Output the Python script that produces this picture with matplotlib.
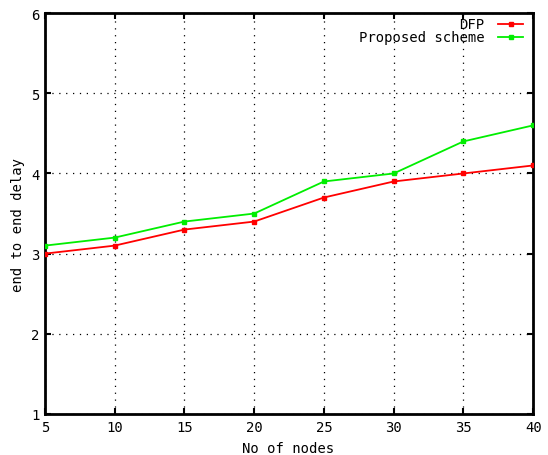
import matplotlib
matplotlib.use("Agg")
import matplotlib.pyplot as plt
from matplotlib.lines import Line2D

nodes = [5, 10, 15, 20, 25, 30, 35, 40]
dfp = [3.0, 3.1, 3.3, 3.4, 3.7, 3.9, 4.0, 4.1]
proposed = [3.1, 3.2, 3.4, 3.5, 3.9, 4.0, 4.4, 4.6]
labels = ["DFP", "Proposed scheme"]
colors = ["#ff0000", "#00ee00"]
xticks = [5, 10, 15, 20, 25, 30, 35, 40]
yticks = [1, 2, 3, 4, 5, 6]

plt.rcParams['font.family'] = ['DejaVu Sans Mono']
fig = plt.figure(figsize=(5.48, 4.56), dpi=100)
ax = fig.add_axes([0.082, 0.090, 0.891, 0.879])

for ys, c in zip([dfp, proposed], colors):
    ax.plot(nodes, ys, color=c, lw=1.3, marker='s', ms=3, mec=c, mfc=c, zorder=3)

ax.set_xlim(5, 40)
ax.set_ylim(1, 6)
ax.set_xticks(xticks)
ax.set_yticks(yticks)
ax.tick_params(direction='in', length=4, width=1.5, top=True, right=True,
               labelsize=10, pad=4, colors='black')
ax.grid(True, color='black', linestyle=(0, (1, 4.5)), linewidth=0.9)
for s in ax.spines.values():
    s.set_linewidth(2)
ax.set_xlabel("No of nodes", fontsize=10)
ax.set_ylabel("end to end delay", fontsize=10)
ax.xaxis.set_label_coords(0.498, -0.067)
ax.yaxis.set_label_coords(-0.041, 0.474)

# gnuplot-style key
for i, (lab, c) in enumerate(zip(labels, colors)):
    yk = 0.9726 - i * 0.0326
    ax.text(0.900, yk, lab, transform=ax.transAxes, ha='right', va='center', fontsize=10)
    ax.add_line(Line2D([0.928, 0.980], [yk, yk], transform=ax.transAxes, color=c, lw=1.3))
    ax.add_line(Line2D([0.954], [yk], transform=ax.transAxes, color=c, marker='s', ms=3))

fig.savefig("out.png", dpi=100)
